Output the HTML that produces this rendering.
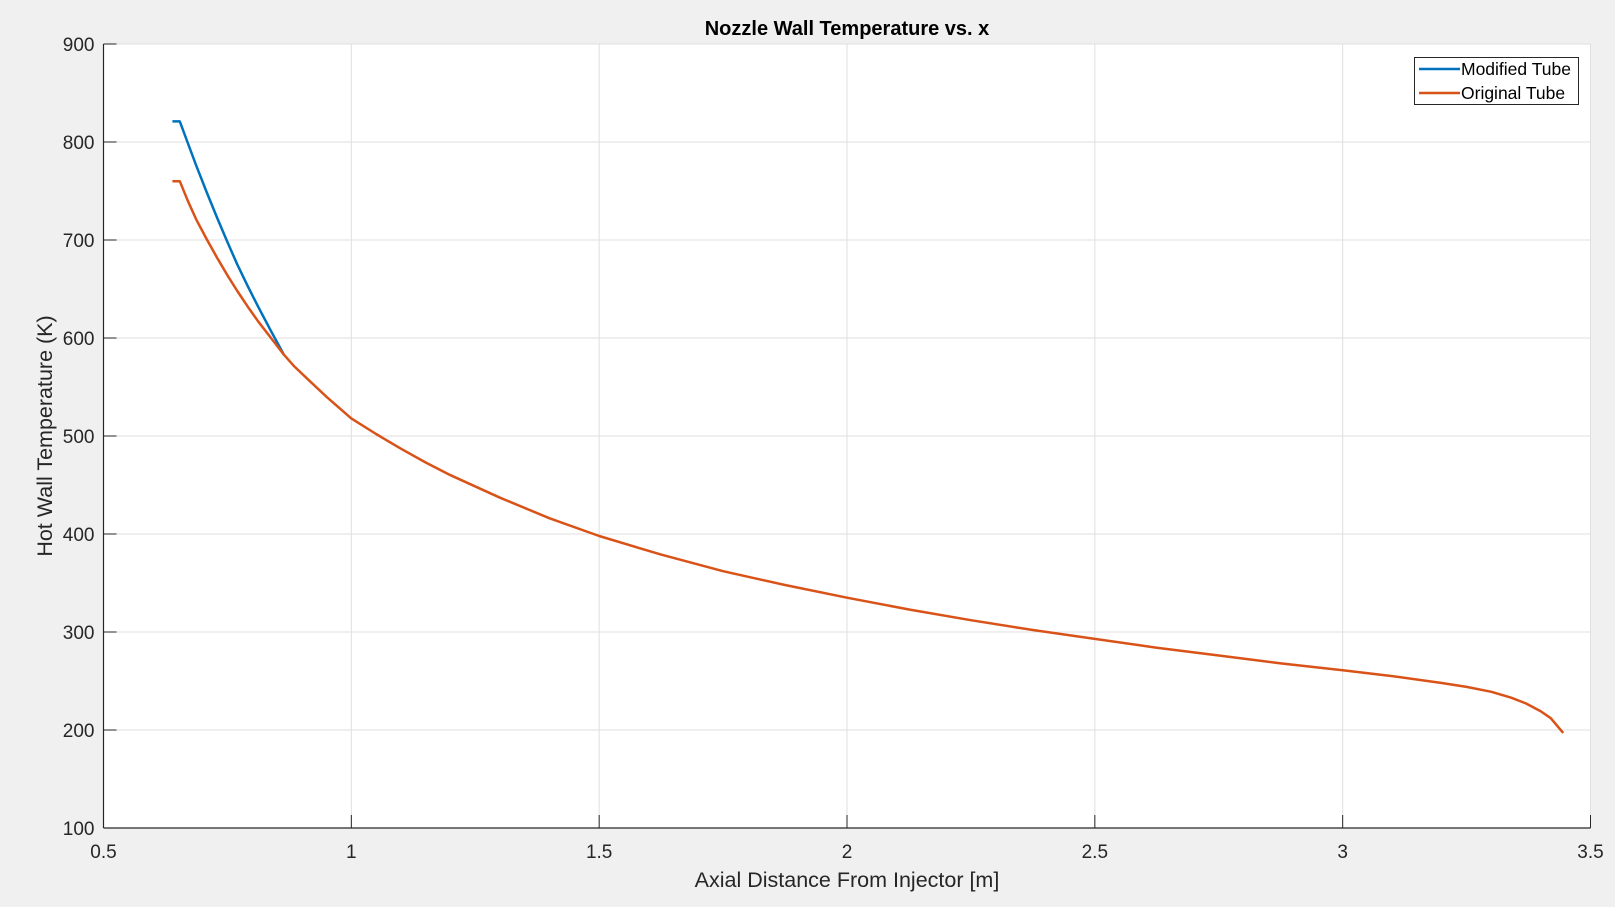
<!DOCTYPE html>
<html><head><meta charset="utf-8"><style>
body{margin:0;background:#f0f0f0;font-family:"Liberation Sans",Arial,sans-serif}
svg{display:block}
</style></head><body>
<svg id="chart" width="1615" height="907" xmlns="http://www.w3.org/2000/svg">
<rect x="0" y="0" width="1615" height="907" fill="#f0f0f0"/>
<rect x="103.5" y="44" width="1487" height="784" fill="#fff"/>
<g id="grid"></g>
<g id="series"></g>
<g id="axes"></g>
<text x="847" y="35" text-anchor="middle" font-size="20" font-weight="bold" fill="#000">Nozzle Wall Temperature vs. x</text>
<text x="847" y="887" text-anchor="middle" font-size="21.5" fill="#262626">Axial Distance From Injector [m]</text>
<text transform="translate(52,436) rotate(-90)" text-anchor="middle" font-size="21.5" fill="#262626">Hot Wall Temperature (K)</text>
<g>
<rect x="1414.5" y="57.5" width="164" height="47" fill="#fff" stroke="#262626" stroke-width="1"/>
<line x1="1419" y1="69" x2="1460" y2="69" stroke="#0072bd" stroke-width="2.5"/>
<text x="1461" y="75" font-size="17.5" fill="#000">Modified Tube</text>
<line x1="1419" y1="93" x2="1460" y2="93" stroke="#d95319" stroke-width="2.5"/>
<text x="1461" y="99" font-size="17.5" fill="#000">Original Tube</text>
</g>
</svg>
<script>
const xTicks=[0.5,1,1.5,2,2.5,3,3.5];
const xTickLabels=["0.5","1","1.5","2","2.5","3","3.5"];
const yTicks=[100,200,300,400,500,600,700,800,900];
const yTickLabels=["100","200","300","400","500","600","700","800","900"];
const origX=[0.639,0.654,0.670,0.687,0.708,0.729,0.750,0.770,0.791,0.812,0.838,0.864,0.885,0.910,0.95,1.0,1.05,1.1,1.15,1.2,1.3,1.4,1.5,1.625,1.75,1.875,2.0,2.125,2.25,2.375,2.5,2.625,2.75,2.875,3.0,3.1,3.2,3.25,3.3,3.34,3.37,3.4,3.42,3.445];
const origY=[760,760,740,721,701,682,664,648,632,617,600,583,571,559,540,518,502,487,473,460,437,416,398,379,362,348,335,323,312,302,293,284,276,268,261,255,248,244,239,233,227,219,212,197];
const modX=[0.639,0.654,0.670,0.687,0.708,0.729,0.750,0.770,0.791,0.812,0.838,0.864];
const modY=[821,821,799,776,749,723,698,675,653,632,607,583];
const L=103.5,R=1590.5,T=44,B=828;
const sx=v=>L+(v-0.5)/3*(R-L);
const sy=v=>B-(v-100)/800*(B-T);
const NS="http://www.w3.org/2000/svg";
const grid=document.getElementById('grid'),axes=document.getElementById('axes'),series=document.getElementById('series');
function mk(t,a,p){const e=document.createElementNS(NS,t);for(const k in a)e.setAttribute(k,a[k]);p.appendChild(e);return e;}
xTicks.forEach((v,i)=>{
 const x=sx(v);
 const g=mk('line',{x1:x,y1:T,x2:x,y2:B,stroke:'#dfdfdf','stroke-width':1},grid);
 
 
 const tk=mk('line',{x1:x,y1:B,x2:x,y2:B-13,stroke:'#262626','stroke-width':1},axes);
 
 
 const t=mk('text',{x:x,y:B+30,'text-anchor':'middle','font-size':19,fill:'#262626'},axes);
 t.textContent=xTickLabels[i];
 
 
});
yTicks.forEach((v,i)=>{
 const y=sy(v);
 const g=mk('line',{x1:L,y1:y,x2:R,y2:y,stroke:'#dfdfdf','stroke-width':1},grid);
 
 
 const tk=mk('line',{x1:L,y1:y,x2:L+13,y2:y,stroke:'#262626','stroke-width':1},axes);
 
 
 const t=mk('text',{x:L-9,y:y+7,'text-anchor':'end','font-size':19,fill:'#262626'},axes);
 t.textContent=yTickLabels[i];
 
 
});
const xa=mk('line',{x1:L,y1:B,x2:R,y2:B,stroke:'#262626','stroke-width':1.2},axes);


const ya=mk('line',{x1:L,y1:T,x2:L,y2:B,stroke:'#262626','stroke-width':1.2},axes);


function path(xs,ys,c,name){
 const d=xs.map((v,i)=>(i?'L':'M')+sx(v).toFixed(1)+' '+sy(ys[i]).toFixed(1)).join(' ');
 const p=mk('path',{d:d,fill:'none',stroke:c,'stroke-width':2.5,'stroke-linejoin':'round'},series);
 
 
}
path(modX,modY,'#0072bd','modified-tube-line');
path(origX,origY,'#d95319','original-tube-line');
</script>
</body></html>
